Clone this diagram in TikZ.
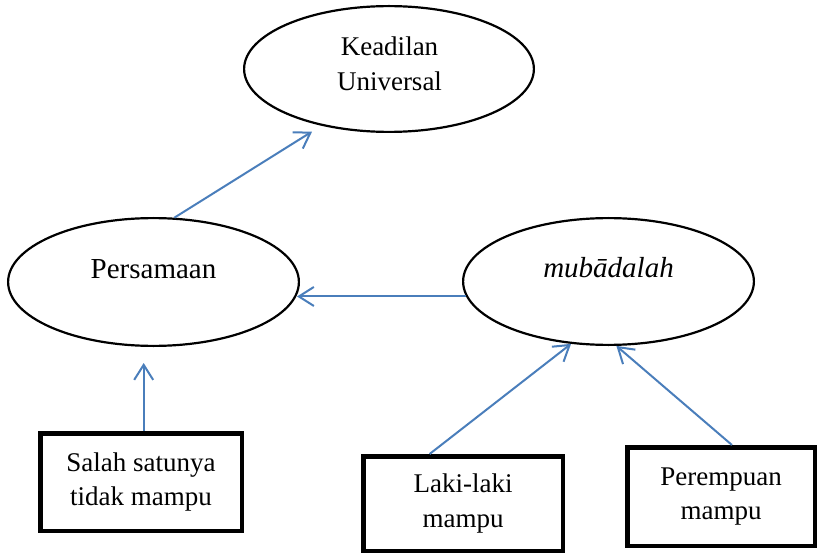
\documentclass[tikz,border=0pt]{standalone}
\usepackage{fontspec}
\setmainfont{Liberation Serif}
\usetikzlibrary{shapes.geometric,arrows.meta,calc}
\definecolor{arrowblue}{HTML}{4A7EBB}
\begin{document}
\begin{tikzpicture}[x=1pt,y=-1pt,
  txt/.style={font=\fontsize{27}{34.5}\selectfont, align=center},
  bigtxt/.style={font=\fontsize{29}{35}\selectfont},
  ell/.style={ellipse, draw=black, line width=2.2pt, inner sep=0pt, txt},
  boxnode/.style={rectangle, draw=black, line width=4.5pt, inner sep=0pt, txt},
  arr/.style={draw=arrowblue, line width=2pt, -{Straight Barb[length=15pt,width=19pt]}}]
\useasboundingbox (0,0) rectangle (819,556);
% ellipses
\node[ell, minimum width=289.8pt, minimum height=125.8pt] (k) at (389,69) {};
\node[txt, anchor=north, inner sep=0pt] (kt) at (389.5,36.6) {Keadilan\\Universal};
\node[ell, bigtxt, minimum width=290.8pt, minimum height=127.8pt, text height=20pt, text depth=28pt] (p) at (153.5,282) {Persamaan};
\node[ell, bigtxt, minimum width=290.8pt, minimum height=126.8pt, text height=20pt, text depth=28pt] (m) at (608.5,281.5) {\textit{mubādalah}};
% boxes
\node[boxnode, minimum width=201.5pt, minimum height=97.5pt] (s) at (141,482) {Salah satunya\\tidak mampu};
\node[boxnode, minimum width=199.5pt, minimum height=94.5pt] (l) at (463,503.5) {Laki-laki\\mampu};
\node[boxnode, minimum width=187.5pt, minimum height=98.5pt] (r) at (721,496.5) {Perempuan\\mampu};
% arrows
\draw[arr, shorten >=11pt] (p.72) -- (k.220);
\draw[arr, shorten >=-3pt] (m.186) -- (m.186 -| p.east);
\draw[arr, shorten >=16pt] (s.87) -- (s.87 |- p.south);
\draw[arr] (l.124) -- (m.239);
\draw[arr] (r.78) -- (m.277);
\end{tikzpicture}
\end{document}
